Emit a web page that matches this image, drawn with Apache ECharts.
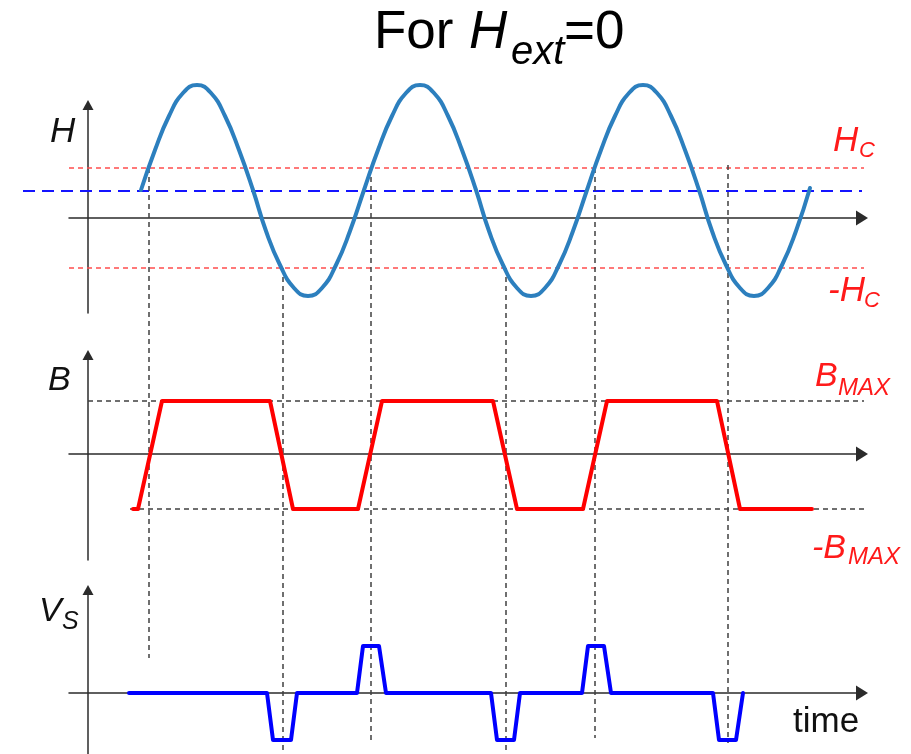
<!DOCTYPE html>
<html>
<head>
<meta charset="utf-8">
<title>For Hext=0</title>
<script src="https://cdn.jsdelivr.net/npm/echarts@6/dist/echarts.min.js"></script>
<style>
  html, body { margin: 0; padding: 0; background: #fff; }
  #chart { width: 911px; height: 754px; }
</style>
</head>
<body>
<div id="chart"></div>
<script>
// time axis: 0 is the vertical axis, 1 unit ~ 1 px
// H panel (applied field)
const hTime = [53, 67, 81, 95, 109, 123, 137, 151, 165, 178, 192, 206, 220, 234, 248, 262,
  276, 290, 304, 318, 332, 346, 360, 374, 388, 401, 415, 429, 443, 457, 471, 485,
  499, 513, 527, 541, 555, 569, 583, 597, 611, 624, 638, 652, 666, 680, 694, 708, 722]
const hValue = [28, 68, 102, 125, 133, 125, 102, 68, 28, -13, -47, -70, -78, -70, -47, -13,
  28, 68, 102, 125, 133, 125, 102, 68, 28, -13, -47, -70, -78, -70, -47, -13,
  28, 68, 102, 125, 133, 125, 102, 68, 28, -13, -47, -70, -78, -70, -47, -13, 30]
// B panel (core flux)
const bTime = [45, 50, 74, 182, 205, 270, 294, 405, 429, 495, 519, 629, 652, 724]
const bValue = [-55, -55, 53, 53, -55, -55, 53, 53, -55, -55, 53, 53, -55, -55]
// Vs panel (sense voltage)
const vTime = [41, 179, 185, 203, 209, 269, 275, 291, 298, 403, 409, 426, 432, 494, 500, 516, 523, 625, 631, 648, 655]
const vValue = [0, 0, -47, -47, 0, 0, 47, 47, 0, 0, -47, -47, 0, 0, 47, 47, 0, 0, -47, -47, 0]
// levels
const HC = 50
const H_BIAS = 27
const B_MAX = 53
const B_MIN = -55
// switching instants (H crosses +/-Hc)
const switchTimes = [61, 195, 283, 418, 507, 640]
const switchLevel = [HC, -HC, HC, -HC, HC, 53]

// layout: where each guide stops, in H-panel units (below the panel)
const guideEnd = [-440, -536, -525, -536, -520, -525]

const chart = echarts.init(document.getElementById('chart'))

const FONT = '"Liberation Sans", Arial, sans-serif'
function txt(text, x, y, size, color, italic) {
  return {
    type: 'text',
    x: x,
    y: y,
    silent: true,
    style: {
      text: text,
      fill: color,
      fontSize: size,
      fontFamily: FONT,
      fontStyle: italic ? 'italic' : 'normal',
      align: 'left',
      verticalAlign: 'top'
    }
  }
}

const axisColor = '#2b2b2b'
function xAxisFor(i) {
  return {
    type: 'value',
    gridIndex: i,
    min: -19,
    max: 774,
    axisLine: {
      onZero: true,
      symbol: ['none', 'triangle'],
      symbolSize: [15, 12],
      lineStyle: { color: axisColor, width: 1.5 }
    },
    axisTick: { show: false },
    axisLabel: { show: false },
    splitLine: { show: false }
  }
}
function yAxisFor(i, min, max) {
  return {
    type: 'value',
    gridIndex: i,
    min: min,
    max: max,
    axisLine: {
      onZero: true,
      symbol: ['none', 'triangle'],
      symbolSize: [11, 10],
      lineStyle: { color: axisColor, width: 1.5 }
    },
    axisTick: { show: false },
    axisLabel: { show: false },
    splitLine: { show: false }
  }
}

function pairs(xs, ys) {
  return xs.map((x, i) => [x, ys[i]])
}

// dashed helper lines drawn as plain two-point line series
function dashed(grid, from, to, style) {
  return {
    type: 'line',
    xAxisIndex: grid,
    yAxisIndex: grid,
    data: [from, to],
    showSymbol: false,
    clip: false,
    silent: true,
    z: 1,
    emphasis: { disabled: true },
    lineStyle: style
  }
}

const guideStyle = { color: '#404040', width: 1.5, type: [5, 4] }
const hcStyle = { color: '#ff4d4d', width: 1.5, type: [5, 4] }
const biasStyle = { color: '#1414ff', width: 2.2, type: [12, 7] }

const guideSeries = switchTimes.map((t, i) =>
  dashed(0, [t, switchLevel[i]], [t, guideEnd[i]], guideStyle))

function curve(name, grid, data, color, smooth) {
  return {
    name: name,
    type: 'line',
    xAxisIndex: grid,
    yAxisIndex: grid,
    data: data,
    smooth: smooth,
    showSymbol: false,
    clip: false,
    silent: true,
    z: 3,
    lineStyle: { color: color, width: 4, cap: 'round', join: 'round' }
  }
}

const option = {
  animation: false,
  backgroundColor: '#fff',
  grid: [
    { left: 69, right: 49, top: 105, height: 208 },
    { left: 69, right: 49, top: 355, height: 205 },
    { left: 69, right: 49, top: 590, height: 164 },
    // same H panel, widened to the left for the bias line
    { left: 23, right: 49, top: 105, height: 208 }
  ],
  xAxis: [xAxisFor(0), xAxisFor(1), xAxisFor(2),
    { type: 'value', gridIndex: 3, min: -65, max: 774, show: false }],
  yAxis: [yAxisFor(0, -95, 113), yAxisFor(1, -106, 99), yAxisFor(2, -61, 103),
    { type: 'value', gridIndex: 3, min: -95, max: 113, show: false }],
  graphic: [
    // title
    txt('For ', 374, 7, 53, '#000', false),
    txt('H', 469, 7, 53, '#000', true),
    txt('ext', 511, 33, 40, '#000', true),
    txt('=0', 564, 7, 53, '#000', false),
    // axis names
    txt('H', 50, 115, 35, '#111', true),
    txt('B', 48, 364, 34, '#111', true),
    txt('V', 39, 595, 34, '#111', true),
    txt('S', 62, 610, 25, '#111', true),
    txt('time', 793, 705, 35, '#111', false),
    // level labels
    txt('H', 833, 124, 35, '#ff1a1a', true),
    txt('C', 859, 140, 22, '#ff1a1a', true),
    txt('-H', 828, 274, 35, '#ff1a1a', true),
    txt('C', 864, 290, 22, '#ff1a1a', true),
    txt('B', 815, 360, 34, '#ff1a1a', true),
    txt('MAX', 838, 376, 24, '#ff1a1a', true),
    txt('-B', 812, 532, 34, '#ff1a1a', true),
    txt('MAX', 848, 545, 24, '#ff1a1a', true)
  ],
  series: [
    dashed(0, [-19, HC], [777, HC], hcStyle),
    dashed(0, [-19, -HC], [777, -HC], hcStyle),
    dashed(3, [-65, H_BIAS], [774, H_BIAS], biasStyle),
    dashed(1, [0, B_MAX], [795, B_MAX], guideStyle),
    dashed(1, [42, B_MIN], [795, B_MIN], guideStyle)
  ].concat(guideSeries, [
    curve('H', 0, pairs(hTime, hValue), '#2c7fbe', true),
    curve('B', 1, pairs(bTime, bValue), '#ff0000', false),
    curve('Vs', 2, pairs(vTime, vValue), '#0000ff', false)
  ])
}

chart.setOption(option)
</script>
</body>
</html>
